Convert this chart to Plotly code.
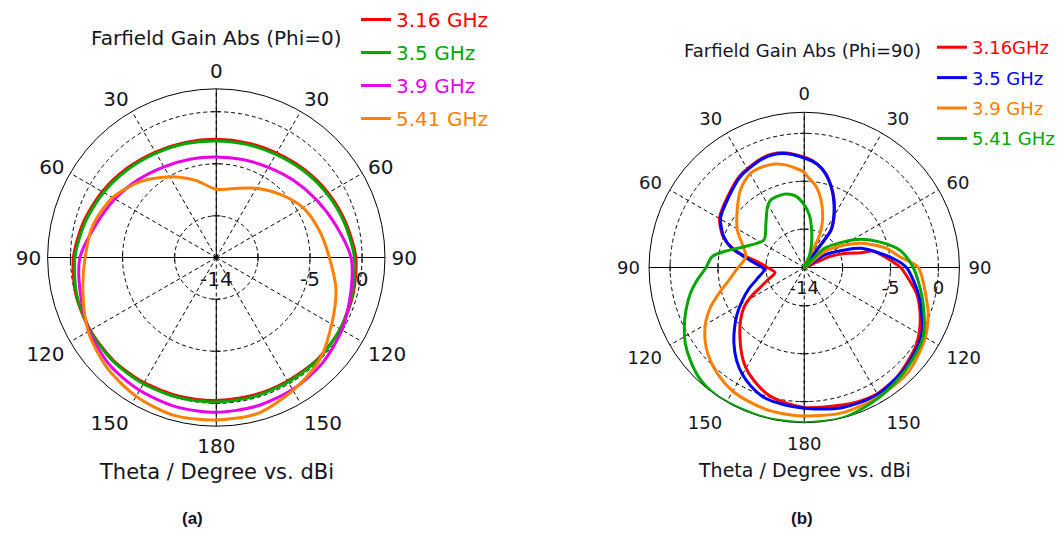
import plotly.graph_objects as go

FONT = "DejaVu Sans"
TEXT = "#14141e"
R_MIN, R_MAX = -14, 2.2

# ---------------- (a) Farfield gain, Phi = 0 cut (dBi) ----------------
theta_a = list(range(0, 361, 15))
gain_a_316 = [-2.65, -2.6, -2.42, -2.05, -1.6, -1.12, -0.6, -0.4, -0.25, -0.22, -0.3, -0.3,
              -0.28, -0.22, -0.12, -0.02, -0.02, -0.05, -0.28, -0.8, -1.35, -1.88, -2.3, -2.55, -2.65]
gain_a_350 = [-2.8, -2.75, -2.56, -2.18, -1.73, -1.25, -0.74, -0.49, -0.26, -0.17, -0.2, -0.17,
              -0.13, -0.07, 0.0, 0.06, 0.0, -0.13, -0.42, -0.96, -1.5, -2.02, -2.43, -2.66, -2.8]
gain_a_390 = [-4.35, -4.26, -4.0, -3.52, -2.9, -2.1, -1.06, -0.64, -0.07, 0.38, 0.63, 0.79,
              0.86, 0.85, 0.73, 0.54, 0.09, -0.49, -0.9, -2.0, -2.75, -3.42, -3.94, -4.22, -4.35]
gain_a_541 = [-7.45, -7.13, -6.33, -5.4, -4.4, -3.78, -3.14, -2.1, -1.2, 0.0, 0.73, 1.5,
              1.6, 1.7, 1.4, 0.9, 0.2, -0.74, -1.4, -1.76, -2.5, -3.7, -5.05, -6.33, -7.45]

# ---------------- (b) Farfield gain, Phi = 90 cut (dBi) ----------------
theta_b_316 = [0, 7, 13, 18, 23.5, 30, 35.5, 36.3, 36, 50, 66.5, 67, 70.7, 75.5, 76.6, 86.4, 90,
               96.9, 103, 110.4, 117.3, 124.2, 131.9, 140, 150.4, 159.6, 171.8, 180, 188.5,
               196.2, 203.9, 210.4, 215.9, 222.7, 230.3, 236.7, 241.2, 245, 250.9, 260.4, 270,
               276.9, 281.6, 286, 291, 300.5, 313, 325, 340, 349, 360]
gain_b_316 = [-2.46, -3.1, -3.95, -5.0, -6.2, -7.75, -9.1, -10.4, -12.2, -14, -12.6, -10.96,
              -9.55, -7.86, -6.63, -4.71, -3.93, -2.95, -1.96, -1.12, -0.42, 0.18, 0.57, 0.98,
              1.22, 1.05, 0.7, 0.6, 0.24, -0.23, -1.07, -1.92, -2.86, -4.1, -5.36, -6.48, -7.62,
              -8.79, -9.93, -10.9, -10.15, -9.1, -7.4, -6.0, -4.9, -3.75, -3.1, -2.3, -1.73,
              -1.8, -2.46]

theta_b_350 = [0, 7.4, 13.2, 18.3, 23.5, 30.1, 35.5, 36.2, 35.5, 46, 58.3, 66.6, 71.5, 84.2, 90,
               105, 120, 135, 150, 165, 180, 188.3, 197.2, 204.4, 210.2, 216, 222.6, 229.4, 235.4,
               242.1, 249.1, 256.7, 267, 274.7, 281, 284.8, 291, 300.5, 313.3, 325, 339.8, 349.2,
               360]
gain_b_350 = [-2.57, -3.16, -4.04, -5.08, -6.3, -7.85, -9.2, -10.4, -11.9, -14, -11.5, -9.4,
              -7.7, -4.68, -3.33, -1.54, 0.14, 0.88, 1.3, 1.15, 0.69, 0.48, 0.2, -0.45, -1.13,
              -1.99, -3.16, -4.43, -5.5, -6.69, -7.83, -8.97, -9.8, -8.9, -7.4, -6.2, -5.0,
              -3.86, -3.2, -2.4, -1.83, -1.9, -2.57]

theta_b_390 = [0, 2, 8.2, 13.9, 19.9, 24, 26, 25.7, 38, 52, 60.8, 67, 76.9, 83.6, 90, 105,
               109.8, 120, 135, 150, 165, 180, 185.2, 193.2, 201.7, 210.3, 218.3, 225.2, 230.9,
               236.3, 241.7, 247.1, 253, 260.4, 269.1, 280.4, 299.2, 310.7, 320.7, 330.4, 340.2,
               349, 360]
gain_b_390 = [-4.07, -4.5, -5.43, -6.73, -8.34, -9.7, -10.8, -12, -14, -11.3, -9.2, -7.5,
              -5.2, -3.97, -2.1, -0.77, -0.26, 0.6, 1.4, 1.57, 1.68, 1.5, 1.45, 1.37, 1.16, 0.9,
              0.39, -0.2, -0.8, -1.52, -2.36, -3.38, -4.67, -6.03, -7.0, -7.8, -6.0, -4.77, -3.5,
              -2.67, -2.67, -3.06, -4.07]

theta_b_541 = [0, 5.5, 11.1, 17, 25, 36, 46.5, 57.3, 63.7, 71.2, 79.7, 90, 105, 120, 135, 150,
               165, 180, 195, 209.7, 217.3, 223.8, 230.7, 237.3, 243.6, 250.1, 257.1, 263.2,
               269.4, 276.6, 281, 289, 304.3, 319, 328.1, 333.7, 344.7, 353.3, 360]
gain_b_541 = [-7.46, -8.48, -10.0, -11.4, -12.8, -14, -11.1, -9.0, -7.36, -5.7, -3.86, -2.63,
              -1.22, 0.35, 1.05, 1.65, 2.2, 2.2, 2.2, 2.2, 2.16, 1.9, 1.35, 0.75, -0.02, -0.87,
              -1.8, -2.73, -3.69, -4.3, -5.4, -7.35, -8.9, -7.9, -6.7, -6.13, -6.06, -6.5, -7.46]

ang_ticks = list(range(0, 360, 30))
ang_text = ["0", "30", "60", "90", "120", "150", "180", "150", "120", "90", "60", "30"]
r_ticks = [-10, -5, 0]
r_labels = ["-14", "-5", "0"]
r_label_pos = [-14, -5, 0]

RED, GREEN, MAGENTA, ORANGE, BLUE = "#ff0000", "#00a800", "#e800e8", "#ff8000", "#0000ff"

fig = go.Figure()


def axis_frame(subplot, fsize):
    # solid crosshair through the pole; the lower spoke leaves room for the centre label
    for ang, r0 in ((0, R_MIN), (90, R_MIN), (270, R_MIN), (180, -10)):
        fig.add_trace(go.Scatterpolar(
            r=[r0, R_MAX], theta=[ang, ang], mode="lines",
            line=dict(color="black", width=1), subplot=subplot,
            showlegend=False, hoverinfo="skip"))
    # small tick marks where the dashed level circles meet the crosshair
    for ang, sym in ((90, "line-ns"), (270, "line-ns"), (0, "line-ew"), (180, "line-ew")):
        fig.add_trace(go.Scatterpolar(
            r=r_ticks, theta=[ang] * len(r_ticks), mode="markers",
            marker=dict(symbol=sym, size=6, line=dict(color="black", width=1)),
            subplot=subplot, showlegend=False, hoverinfo="skip"))
    fig.add_trace(go.Scatterpolar(
        r=r_label_pos, theta=[90] * len(r_label_pos), mode="markers+text",
        marker=dict(size=20, color="rgba(0,0,0,0)"), text=r_labels,
        textposition="bottom center",
        textfont=dict(family=FONT, size=fsize, color=TEXT),
        subplot=subplot, showlegend=False, hoverinfo="skip"))


def curve(theta, r, color, name, subplot, legend):
    fig.add_trace(go.Scatterpolar(
        r=r, theta=theta, mode="lines",
        line=dict(color=color, width=3, shape="spline", smoothing=0.8),
        name=f'<span style="color:{color}">{name}</span>',
        subplot=subplot, legend=legend, legendgroup=f"{legend}-{name}"))


axis_frame("polar", 20)
curve(theta_a, gain_a_316, RED, "3.16 GHz", "polar", "legend")
curve(theta_a, gain_a_350, GREEN, "3.5 GHz", "polar", "legend")
curve(theta_a, gain_a_390, MAGENTA, "3.9 GHz", "polar", "legend")
curve(theta_a, gain_a_541, ORANGE, "5.41 GHz", "polar", "legend")

axis_frame("polar2", 18)
curve(theta_b_316, gain_b_316, RED, "3.16GHz", "polar2", "legend2")
curve(theta_b_350, gain_b_350, BLUE, "3.5 GHz", "polar2", "legend2")
curve(theta_b_390, gain_b_390, ORANGE, "3.9 GHz", "polar2", "legend2")
curve(theta_b_541, gain_b_541, GREEN, "5.41 GHz", "polar2", "legend2")

W, H = 1060, 534


def polar_layout(cx, cy, rad, fsize, label_gap):
    return dict(
        domain=dict(x=[(cx - rad) / W, (cx + rad) / W], y=[1 - (cy + rad) / H, 1 - (cy - rad) / H]),
        bgcolor="white",
        angularaxis=dict(rotation=90, direction="clockwise", tickmode="array",
                         tickvals=ang_ticks, ticktext=ang_text,
                         ticks="outside", ticklen=label_gap, tickcolor="rgba(0,0,0,0)",
                         showgrid=True, gridcolor="black", griddash="4px,3px", gridwidth=1,
                         showline=True, linecolor="black", linewidth=1, layer="below traces",
                         tickfont=dict(family=FONT, size=fsize, color=TEXT)),
        radialaxis=dict(range=[R_MIN, R_MAX], tickvals=r_ticks, showticklabels=False,
                        ticks="", showline=False, showgrid=True, gridcolor="black",
                        griddash="4px,3px", gridwidth=1, layer="below traces"),
    )


def px(x, y):
    return x / W, 1 - y / H


def label(x, y, text, size=20, bold=False, family=FONT):
    xp, yp = px(x, y)
    return dict(x=xp, y=yp, xref="paper", yref="paper", text=f"<b>{text}</b>" if bold else text,
                showarrow=False, xanchor="center", yanchor="middle",
                font=dict(family=family, size=size, color=TEXT))


fig.update_layout(
    width=W, height=H, margin=dict(l=0, r=0, t=0, b=0),
    paper_bgcolor="white", plot_bgcolor="white",
    polar=polar_layout(216.5, 257, 169, 20, 2),
    polar2=polar_layout(805, 267, 155.5, 18, 5),
    legend=dict(x=px(356, 0)[0], y=px(0, -1)[1], xanchor="left", yanchor="top",
                font=dict(family=FONT, size=20, color=TEXT), bgcolor="rgba(0,0,0,0)",
                itemwidth=30, tracegroupgap=4),
    legend2=dict(x=px(933, 0)[0], y=px(0, 29)[1], xanchor="left", yanchor="top",
                 font=dict(family=FONT, size=18, color=TEXT), bgcolor="rgba(0,0,0,0)",
                 itemwidth=30, tracegroupgap=4),
    annotations=[
        label(216.7, 37, "Farfield Gain Abs (Phi=0)"),
        label(803.5, 50, "Farfield Gain Abs (Phi=90)", size=18),
        label(216.5, 472, "Theta / Degree vs. dBi", size=21),
        label(805, 470, "Theta / Degree vs. dBi", size=19),
        label(193, 518, "(a)", size=17, bold=True, family="Liberation Sans"),
        label(803, 518, "(b)", size=17, bold=True, family="Liberation Sans"),
    ],
)

fig.write_html("out.html")
